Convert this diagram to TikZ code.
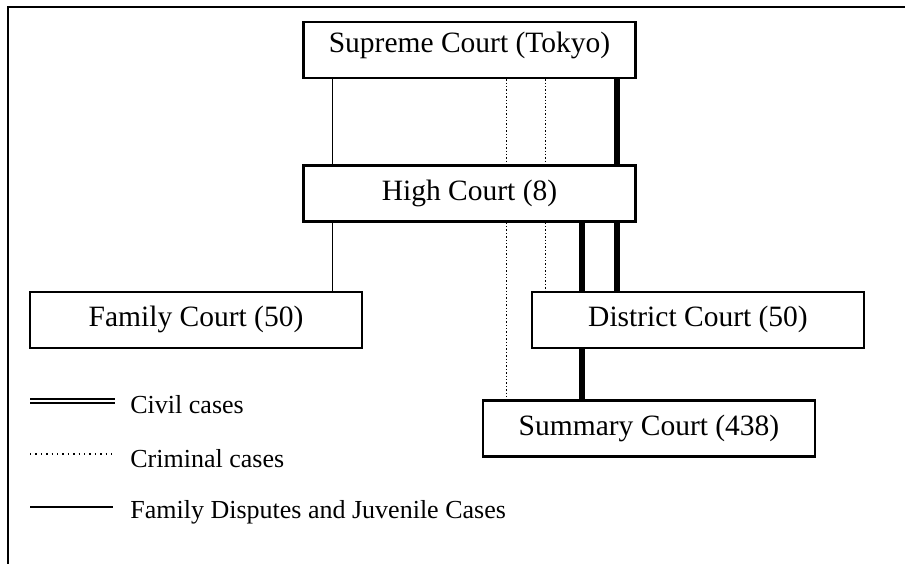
\documentclass[tikz,border=0pt]{standalone}
\usepackage{fontspec}
\setmainfont{Liberation Serif}
\usetikzlibrary{calc,positioning}

\begin{document}
\begin{tikzpicture}[x=0.5pt,y=-0.5pt,
    court/.style={draw, line width=1.1pt, minimum width=166pt, minimum height=28pt,
      inner sep=0pt, text height=0.66em, text depth=0pt,
      font=\fontsize{14.75}{17}\selectfont},
    civline/.style={line width=3pt},
    crimline/.style={line width=0.7pt, densely dotted},
    famline/.style={line width=0.8pt},
    legendtext/.style={anchor=base west, inner sep=0pt, font=\fontsize{13}{15}\selectfont}]
  \useasboundingbox (0,0) rectangle (905,563);

  % frame
  \draw[line width=1.2pt] (8,580) -- (8,7) -- (920,7);

  % courts
  \node[court, text depth=0.4em] (supreme) at (469.5,50) {Supreme Court (Tokyo)};
  \node[court] (high) at (469.5,193.5) {High Court (8)};
  \node[court] (family) at (196,320) {Family Court (50)};
  \node[court] (district) at (698,320) {District Court (50)};
  \node[court] (summary) at (649,428.5) {Summary Court (438)};

  % line positions
  \coordinate (f1) at ([xshift=15pt]high.south west);
  \coordinate (k1) at ([xshift=102pt]high.south west);
  \coordinate (k2) at ([xshift=121.5pt]high.south west);
  \coordinate (c1) at ([xshift=140pt]high.south west);
  \coordinate (c2) at ([xshift=157.5pt]high.south west);

  % family disputes and juvenile cases
  \draw[famline] (f1 |- supreme.south) -- (f1 |- high.north);
  \draw[famline] (f1) -- (f1 |- family.north);

  % criminal cases
  \draw[crimline] (k1 |- supreme.south) -- (k1 |- high.north);
  \draw[crimline] (k1) -- (k1 |- summary.north);
  \draw[crimline] (k2 |- supreme.south) -- (k2 |- high.north);
  \draw[crimline] (k2) -- (k2 |- district.north);

  % civil cases
  \draw[civline] (c2 |- supreme.south) -- (c2 |- high.north);
  \draw[civline] (c2) -- (c2 |- district.north);
  \draw[civline] (c1) -- (c1 |- district.north);
  \draw[civline] (c1 |- district.south) -- (c1 |- summary.north);

  % legend
  \draw[line width=1.2pt, double, double distance=0.6pt] (30,401) -- (115,401);
  \node[legendtext] (civil) at (130,413) {Civil cases};
  \draw[line width=0.7pt, dotted] (30,454) -- (112,454);
  \node[legendtext] (criminal) at (130,467) {Criminal cases};
  \draw[line width=1.3pt] (30,507) -- (113,507);
  \node[legendtext] (juvenile) at (130,518) {Family Disputes and Juvenile Cases};
\end{tikzpicture}
\end{document}
